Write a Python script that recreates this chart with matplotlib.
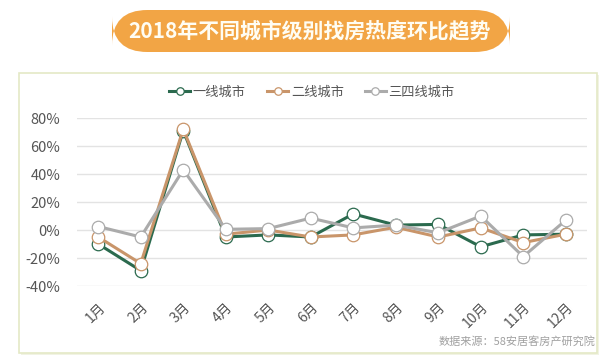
import matplotlib
matplotlib.use("Agg")
import matplotlib.pyplot as plt
from matplotlib.patches import FancyBboxPatch
from matplotlib.ticker import FuncFormatter

plt.rcParams['font.family'] = ['Noto Sans CJK SC', 'DejaVu Sans']

months = ["1月", "2月", "3月", "4月", "5月", "6月", "7月", "8月", "9月", "10月", "11月", "12月"]
tier1 = [-10, -29, 71, -5, -3.5, -5, 11.5, 3.5, 4, -12, -3.5, -3]
tier2 = [-5, -24, 72, -3, 0, -5, -3.5, 2, -5, 1.5, -9, -3]
tier3 = [2.5, -5, 43, 0.5, 1, 8.5, 1.5, 3.5, -2, 10, -19, 7]
series_names = ["一线城市", "二线城市", "三四线城市"]
series_colors = ["#2B6A4E", "#C9956A", "#ABABAB"]
yticks = [-40, -20, 0, 20, 40, 60, 80]

W, H = 608, 359
fig = plt.figure(figsize=(W / 100, H / 100), dpi=100)
fig.patch.set_facecolor("white")

# panel frame with shadow
shadow = FancyBboxPatch((21 / W, 1 - 355 / H), 578 / W, 280 / H,
                        boxstyle="square,pad=0", transform=fig.transFigure,
                        facecolor="#F1F3E4", edgecolor="none", zorder=0)
fig.patches.append(shadow)
frame = FancyBboxPatch((19 / W, 1 - 353 / H), 578 / W, 280 / H,
                       boxstyle="square,pad=0", transform=fig.transFigure,
                       facecolor="white", edgecolor="#E4E9C6", linewidth=1.2, zorder=1)
fig.patches.append(frame)

# title pill
pill = FancyBboxPatch((112 / W, 1 - 52 / H), 398 / W, 42 / H,
                      boxstyle="round,pad=0,rounding_size=0.058",
                      transform=fig.transFigure, mutation_aspect=W / H,
                      facecolor="#F2A545", edgecolor="none", zorder=2)
fig.patches.append(pill)
fig.text(310 / W, 1 - 31 / H, "2018年不同城市级别找房热度环比趋势", ha="center", va="center",
         fontsize=15, fontweight="bold", color="#FFFDF3", zorder=3)

ax = fig.add_axes([77 / W, 1 - 286 / H, 510 / W, 168 / H])
ax.set_zorder(4)
ax.patch.set_alpha(0)
x = list(range(len(months)))
for vals, name, col in zip([tier1, tier2, tier3], series_names, series_colors):
    ax.plot(x, vals, color=col, lw=2.2, marker="o", markersize=9,
            markerfacecolor="white", markeredgecolor=col, markeredgewidth=0.9,
            label=name, zorder=3)

ax.set_xlim(-0.5, len(months) - 0.5)
ax.set_ylim(-40, 80)
ax.set_yticks(yticks)
ax.yaxis.set_major_formatter(FuncFormatter(lambda v, p: f"{int(v)}%"))
ax.set_xticks(x)
ax.set_xticklabels(months, rotation=45, ha="right", rotation_mode="anchor")
ax.grid(axis="y", color="#E3E3E3", lw=1)
ax.set_axisbelow(True)
for s in ax.spines.values():
    s.set_visible(False)
ax.tick_params(axis="both", length=0, labelsize=10.5, labelcolor="#555555")
ax.tick_params(axis="y", pad=12)
ax.tick_params(axis="x", pad=10)
for lbl in ax.get_xticklabels():
    lbl.set_fontsize(10)

handles, labels = ax.get_legend_handles_labels()
leg = fig.legend(handles, labels, loc="center", bbox_to_anchor=(312 / W, 1 - 92 / H),
                 ncol=3, frameon=False, fontsize=9.5, handlelength=1.6,
                 columnspacing=1.6, handletextpad=0.2, markerscale=0.6)
for t in leg.get_texts():
    t.set_color("#555555")
for l in leg.get_lines():
    l.set_linewidth(2.2)

fig.text(595 / W, 1 - 341 / H, "数据来源：58安居客房产研究院", ha="right", va="center",
         fontsize=8, color="#A0A0A0")

fig.savefig("out.png", dpi=100, facecolor="white")
